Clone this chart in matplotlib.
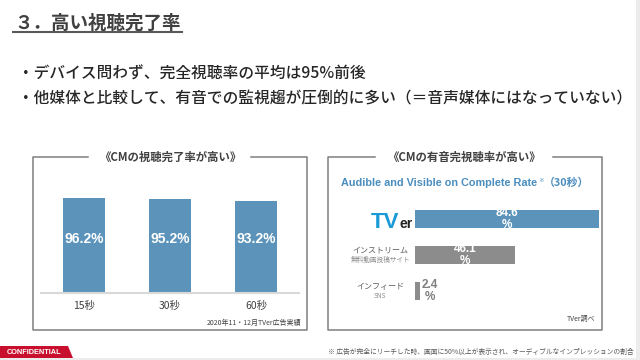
import matplotlib.pyplot as plt
from matplotlib.patches import Polygon, Rectangle

plt.rcParams['font.family'] = ['Noto Sans CJK JP', 'DejaVu Sans']

# data: left chart (CM completion rate by length)
lengths = ['15秒', '30秒', '60秒']
complete_rate = [96.2, 95.2, 93.2]

# data: right chart (audible & visible on complete rate, 30s)
media = ['TVer', 'インストリーム', 'インフィード']
media_sub = ['', '無料動画投稿サイト', 'SNS']
audible_rate = [84.6, 46.1, 2.4]

W, H = 640, 360
BLUE = '#5b93ba'
GREY_BAR = '#8c8c8c'
BOX = '#7f7f7f'
LATIN = ['Liberation Sans', 'DejaVu Sans']


def rect(x0, y0, x1, y1):
    # pixel box (top-left origin) -> figure fraction
    return [x0 / W, 1 - y1 / H, (x1 - x0) / W, (y1 - y0) / H]


fig = plt.figure(figsize=(6.4, 3.6), dpi=100)

# overlay axes in pixel coordinates for the slide decoration
bg = fig.add_axes([0, 0, 1, 1])
bg.set_xlim(0, W)
bg.set_ylim(H, 0)
bg.axis('off')

# title
bg.text(14, 23, '３．高い視聴完了率', fontsize=13.3, fontweight='bold',
        color='#404040', va='center', ha='left')
bg.plot([13, 182], [32, 32], color='#595959', lw=1.5)

# bullets
bg.text(18, 74, '・デバイス問わず、完全視聴率の平均は95%前後', fontsize=11.3,
        fontweight='medium', color='#262626', va='center', ha='left')
bg.text(18, 99, '・他媒体と比較して、有音での監視趨が圧倒的に多い（＝音声媒体にはなっていない）',
        fontsize=11.3, fontweight='medium', color='#262626', va='center', ha='left')

# panel boxes with gap for the heading
def panel(x0, x1, y0, y1, g0, g1, title, tx):
    bg.plot([g1, x1, x1, x0, x0, g0], [y0, y0, y1, y1, y0, y0], color=BOX, lw=1.1)
    bg.text(tx, y0, title, fontsize=8.2, fontweight='bold', color='#404040',
            ha='center', va='center')

panel(33, 307, 157, 330, 88, 251, '《CMの視聴完了率が高い》', 170)
panel(328, 602, 157, 330, 375, 553, '《CMの有音完視聴率が高い》', 464)

bg.text(301, 323, '2020年11・12月TVer広告実績', fontsize=5, color='#404040',
        ha='right', va='center')
bg.text(595, 319, 'TVer調べ', fontsize=5, color='#404040', ha='right', va='center')

# right panel subtitle
bg.text(537, 183, 'Audible and Visible on Complete Rate', fontsize=7.8,
        fontweight='bold', color='#4a8dbf', ha='right', va='center', family=LATIN)
bg.text(538, 180, '※', fontsize=4, color='#4a8dbf', ha='left', va='center')
bg.text(544, 183, '（30秒）', fontsize=7.8, fontweight='bold', color='#4a8dbf',
        ha='left', va='center')

# TVer logo (text)
bg.text(399, 228, 'TV', fontsize=16, fontweight='bold', color='#1a9ad6',
        ha='right', va='baseline', family=LATIN)
bg.text(399.5, 228, 'er', fontsize=10, fontweight='bold', color='#222222',
        ha='left', va='baseline', family=LATIN)

# bottom strip
bg.add_patch(Rectangle((636, 0), 4, 360, color='#ececec', lw=0))
bg.add_patch(Rectangle((0, 358), 640, 2, color='#ececec', lw=0))
bg.add_patch(Polygon([(0, 346), (68, 346), (73, 358), (0, 358)], closed=True,
                     color='#c8102e', lw=0))
bg.text(7, 352.5, 'CONFIDENTIAL', fontsize=5.3, fontweight='bold', color='white',
        ha='left', va='center', family=LATIN)
bg.text(634, 352, '※ 広告が完全にリーチした時、画面に50%以上が表示され、オーディブルなインプレッションの割合',
        fontsize=4.9, color='#595959', ha='right', va='center')

# left bar chart
ax1 = fig.add_axes(rect(41, 194, 299, 292.7))
ax1.bar(range(len(lengths)), complete_rate, width=0.495, color=BLUE, zorder=2)
ax1.set_xlim(-0.5, 2.5)
ax1.set_ylim(0, 100)
for s in ['top', 'left', 'right']:
    ax1.spines[s].set_visible(False)
ax1.spines['bottom'].set_color('#d9d9d9')
ax1.spines['bottom'].set_linewidth(1.5)
ax1.set_yticks([])
ax1.set_xticks(range(len(lengths)))
ax1.set_xticklabels(lengths, fontsize=7.5, color='#404040')
ax1.tick_params(axis='x', length=0, pad=6)
ax1.patch.set_alpha(0)
for i, v in enumerate(complete_rate):
    ax1.text(i, 54, f'{v}%', color='white', fontsize=10, fontweight='bold',
             ha='center', va='center', family=LATIN)

# right horizontal bar chart
ax2 = fig.add_axes(rect(415, 201, 600, 309))
colors = [BLUE, GREY_BAR, GREY_BAR]
ax2.barh(range(len(media)), audible_rate, height=0.48, color=colors)
ax2.set_xlim(0, 85)
ax2.set_ylim(2.5, -0.5)
ax2.axis('off')
for i, v in enumerate(audible_rate):
    if v > 10:
        ax2.text(v / 2, i, f'{v}\n%', color='white', fontsize=8.5, fontweight='bold',
                 ha='center', va='center', linespacing=1.0, family=LATIN)
    else:
        ax2.annotate(f'{v}\n%', (v, i), xytext=(7, 0), textcoords='offset points',
                     color='#7f7f7f', fontsize=8.5, fontweight='bold',
                     ha='center', va='center', linespacing=1.0, family=LATIN)
# category labels (skip TVer, drawn as logo)
for i in range(1, len(media)):
    ax2.annotate(media[i], (0, i), xytext=(-25, 3.5), textcoords='offset points',
                 fontsize=5.8, color='#595959', ha='center', va='center',
                 annotation_clip=False)
    ax2.annotate(media_sub[i], (0, i), xytext=(-25, -3.5), textcoords='offset points',
                 fontsize=4.8, color='#8c8c8c', ha='center', va='center',
                 annotation_clip=False)

fig.savefig('out.png', dpi=100)
